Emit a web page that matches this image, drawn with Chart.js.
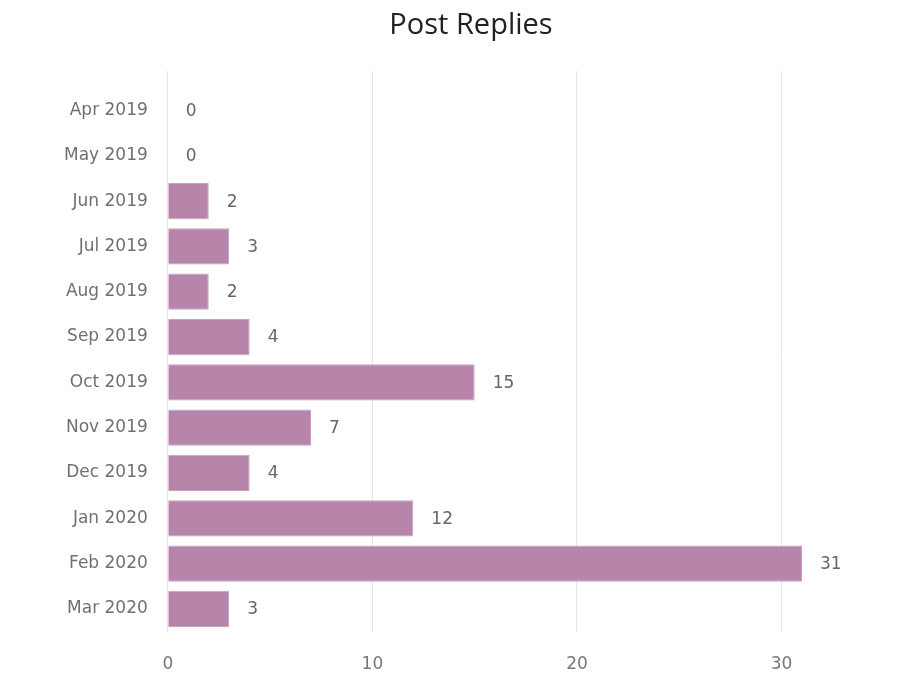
<!DOCTYPE html>
<html>
<head>
<meta charset="utf-8">
<script src="https://cdn.jsdelivr.net/npm/chart.js@4"></script>
<style>
  body { margin: 0; background: #fff; }
  #wrap { width: 905px; height: 687px; }
</style>
</head>
<body>
<div id="wrap"><canvas id="myChart" width="905" height="687"></canvas></div>
<script>
// Post replies per month
var months = ['Apr 2019', 'May 2019', 'Jun 2019', 'Jul 2019', 'Aug 2019', 'Sep 2019',
              'Oct 2019', 'Nov 2019', 'Dec 2019', 'Jan 2020', 'Feb 2020', 'Mar 2020']
var replies = [0, 0, 2, 3, 2, 4, 15, 7, 4, 12, 31, 3]
var xTicks = [0, 10, 20, 30]

var labelFont = '"DejaVu Sans"'

// draws the value next to each bar
const valueLabels = {
    id: 'valueLabels',
    afterDatasetsDraw(chart) {
        const ctx = chart.ctx
        const meta = chart.getDatasetMeta(0)
        ctx.save()
        ctx.font = '17px ' + labelFont
        ctx.fillStyle = '#666'
        ctx.textAlign = 'left'
        ctx.textBaseline = 'middle'
        meta.data.forEach((bar, i) => {
            ctx.fillText(String(replies[i]), bar.x + 18, bar.y + 1)
        })
        ctx.restore()
    }
}

// gridlines in the original run a bit above the first bar
const gridTop = {
    id: 'gridTop',
    beforeDatasetsDraw(chart) {
        const ctx = chart.ctx
        const xs = chart.scales.x
        const top = chart.chartArea.top
        ctx.save()
        ctx.strokeStyle = '#e6e6e6'
        ctx.lineWidth = 1
        xTicks.forEach(v => {
            // same pixel alignment chart.js uses for its own grid
            const px = Math.round(xs.getPixelForValue(v) - 0.5) + 0.5
            ctx.beginPath()
            ctx.moveTo(px, top - 17)
            ctx.lineTo(px, top + 1)
            ctx.stroke()
        })
        ctx.restore()
    }
}

const data = {
    labels: months,
    datasets: [{
        label: 'Post Replies',
        data: replies,
        backgroundColor: '#b785aa',
        borderColor: '#c9a0bd',
        borderWidth: 1,
        barPercentage: 0.8,
        categoryPercentage: 1.0
    }]
}

const config = {
    type: 'bar',
    data: data,
    options: {
        indexAxis: 'y',
        responsive: false,
        animation: false,
        layout: {
            padding: {left: 52, right: 15, top: 0, bottom: -11}
        },
        scales: {
            x: {
                min: 0,
                max: 35.3,
                afterBuildTicks: function(axis) {
                    axis.ticks = xTicks.map(v => ({value: v}))
                },
                grid: {color: '#e6e6e6', drawTicks: false},
                border: {display: false},
                ticks: {
                    color: '#777',
                    padding: 23,
                    font: {size: 17, family: labelFont}
                }
            },
            y: {
                grid: {display: false},
                border: {display: false},
                ticks: {
                    color: '#707070',
                    padding: 12,
                    font: {size: 17, family: labelFont}
                }
            }
        },
        plugins: {
            legend: {display: false},
            tooltip: {enabled: false},
            title: {
                display: true,
                text: 'Post Replies',
                color: '#222',
                font: {size: 29, family: 'Open Sans', weight: 'normal'},
                padding: {top: 8, bottom: 45}
            }
        }
    },
    plugins: [gridTop, valueLabels]
}

let myChart = new Chart(document.getElementById('myChart'), config)
</script>
</body>
</html>
